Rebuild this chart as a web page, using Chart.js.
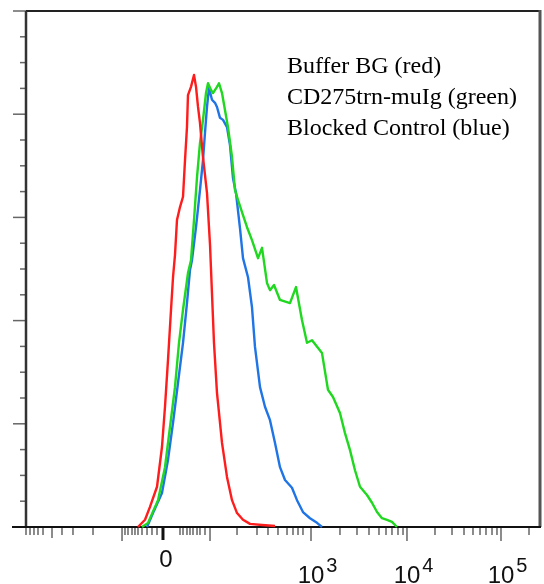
<!DOCTYPE html>
<html lang="en">
<head>
<meta charset="UTF-8" />
<title>histograma</title>
<script src="https://cdn.jsdelivr.net/npm/chart.js"></script>
<style>
  html, body { margin: 0; padding: 0; background: #fff; }
  #box { width: 544px; height: 584px; }
</style>
</head>
<body>
<div id="box"><canvas id="grafico"></canvas></div>
<script>
// display channels (0-1024) and counts (0-100)
const redX = [223.1, 237.1, 247.0, 261.0, 270.9, 276.9, 282.9, 288.9, 292.9, 296.8, 300.8, 306.8, 312.8, 316.8, 320.7, 322.7, 328.7, 334.7, 338.7, 342.7, 346.6, 352.6, 360.6, 366.6, 370.5, 374.5, 380.5, 390.5, 400.4, 410.4, 420.4, 432.3, 446.3, 470.2, 496.1]
const redY = [0, 1.4, 3.9, 7.8, 15.5, 23.3, 32.4, 42.1, 48.4, 52.7, 59.5, 62.0, 64.0, 71.1, 77.5, 83.7, 85.3, 87.6, 85.3, 81.4, 78.3, 71.7, 64.7, 54.7, 45.3, 35.7, 26.0, 16.3, 9.7, 5.2, 2.7, 1.4, 0.6, 0.4, 0.2]

const greenX = [231.1, 243.0, 263.0, 276.9, 286.9, 296.8, 304.8, 312.8, 322.7, 328.7, 334.7, 340.7, 346.6, 352.6, 358.6, 362.6, 368.6, 372.5, 380.5, 384.5, 390.5, 396.4, 402.4, 410.4, 416.4, 422.3, 430.3, 440.3, 450.2, 462.2, 470.2, 480.1, 486.1, 494.1, 506.0, 525.9, 537.9, 549.8, 559.8, 569.8, 589.7, 601.6, 611.6, 625.5, 635.5, 645.5, 655.4, 665.4, 679.3, 689.3, 699.3, 709.2, 719.2, 729.1, 739.1]
const greenY = [0, 0.8, 5.2, 11.6, 19.4, 27.1, 35.7, 42.1, 49.2, 51.7, 59.5, 67.8, 74.4, 78.9, 84.1, 86.0, 84.7, 84.1, 85.3, 86.0, 84.1, 80.8, 77.5, 71.7, 65.3, 63.4, 61.0, 58.1, 55.6, 52.1, 54.1, 47.3, 45.9, 46.9, 44.0, 43.4, 46.5, 40.1, 35.7, 36.2, 33.7, 26.6, 25.2, 22.1, 18.2, 14.9, 11.0, 7.8, 6.2, 4.7, 2.9, 1.7, 1.4, 1.0, 0]

const blueX = [241.1, 253.0, 270.9, 282.9, 292.9, 302.8, 312.8, 320.7, 326.7, 330.7, 338.7, 346.6, 352.6, 356.6, 360.6, 364.6, 370.5, 376.5, 380.5, 386.5, 392.5, 400.4, 406.4, 412.4, 418.4, 426.3, 432.3, 442.3, 450.2, 456.2, 466.2, 476.1, 486.1, 496.1, 506.0, 516.0, 529.9, 539.9, 551.8, 565.8, 579.7, 589.7]
const blueY = [0, 2.7, 6.6, 13.0, 20.2, 27.9, 35.7, 43.4, 49.8, 51.7, 58.1, 65.3, 71.1, 76.4, 81.4, 85.1, 82.8, 82.2, 81.4, 79.3, 78.9, 77.5, 74.0, 67.6, 64.7, 57.9, 52.1, 48.4, 42.6, 34.9, 27.1, 23.3, 20.7, 16.3, 11.6, 9.1, 7.6, 5.2, 2.9, 1.7, 0.8, 0]

const legendTexts = ['Buffer BG (red)', 'CD275trn-muIg (green)', 'Blocked Control (blue)']

// x axis (biexponential display), positions in channels
const xMajorTicks = [191.3, 366.6, 567.8, 759.0, 946.3]
const xZeroTick = 272.9
const xMidTicks = [51.8]
const xMinorTicks = [0, 8, 15.9, 23.9, 33.9, 71.7, 93.6, 133.5, 197.2, 203.2, 211.2, 217.1, 223.1, 231.1, 241.1, 251.0, 261.0,
  306.8, 312.8, 320.7, 326.7, 332.7, 340.7, 346.6, 356.6, 420.4, 460.2, 482.1, 502.0, 520.0, 531.9, 541.9, 551.8,
  625.5, 659.4, 683.3, 703.2, 717.2, 729.1, 741.1, 751.1, 814.8, 848.7, 872.6, 890.5, 904.5, 916.4, 928.4, 938.3, 1002.1]
const xLabelPos = [272.9, 567.8, 759.0, 946.3]
const xLabelBase = ['0', '10', '10', '10']
const xLabelExp = ['', '3', '4', '5']

// y axis counts
const yMajorTicks = [0, 20, 40, 60, 80, 100]
const yMinorTicks = [5, 10, 15, 25, 30, 35, 45, 50, 55, 65, 70, 75, 85, 90, 95]

function pontos(xs, ys) {
  return xs.map(function (x, i) { return { x: x, y: ys[i] } })
}

const moldura = {
  id: 'moldura',
  beforeDatasetsDraw(chart) {
    const ctx = chart.ctx
    const a = chart.chartArea
    const sx = chart.scales.x
    const sy = chart.scales.y
    ctx.save()
    // y ticks
    ctx.strokeStyle = '#666'
    ctx.lineWidth = 1.5
    yMajorTicks.forEach(function (v) {
      const y = sy.getPixelForValue(v)
      ctx.beginPath(); ctx.moveTo(a.left - 13, y); ctx.lineTo(a.left, y); ctx.stroke()
    })
    yMinorTicks.forEach(function (v) {
      const y = sy.getPixelForValue(v)
      ctx.beginPath(); ctx.moveTo(a.left - 6, y); ctx.lineTo(a.left, y); ctx.stroke()
    })
    // x ticks
    xMinorTicks.forEach(function (v) {
      const x = sx.getPixelForValue(v)
      ctx.beginPath(); ctx.moveTo(x, a.bottom); ctx.lineTo(x, a.bottom + 8); ctx.stroke()
    })
    xMidTicks.forEach(function (v) {
      const x = sx.getPixelForValue(v)
      ctx.beginPath(); ctx.moveTo(x, a.bottom); ctx.lineTo(x, a.bottom + 11); ctx.stroke()
    })
    xMajorTicks.forEach(function (v) {
      const x = sx.getPixelForValue(v)
      ctx.beginPath(); ctx.moveTo(x, a.bottom); ctx.lineTo(x, a.bottom + 14); ctx.stroke()
    })
    ctx.strokeStyle = '#111'
    ctx.lineWidth = 3
    const x0 = sx.getPixelForValue(xZeroTick)
    ctx.beginPath(); ctx.moveTo(x0, a.bottom); ctx.lineTo(x0, a.bottom + 13); ctx.stroke()

    // frame
    ctx.strokeStyle = '#222'
    ctx.lineWidth = 2
    ctx.beginPath()
    ctx.moveTo(a.left, a.top); ctx.lineTo(a.right, a.top)
    ctx.stroke()
    ctx.strokeStyle = '#555'
    ctx.lineWidth = 3
    ctx.beginPath()
    ctx.moveTo(a.right, a.top - 1); ctx.lineTo(a.right, a.bottom)
    ctx.stroke()
    ctx.strokeStyle = '#333'
    ctx.lineWidth = 2.5
    ctx.beginPath()
    ctx.moveTo(a.left, a.top); ctx.lineTo(a.left, a.bottom)
    ctx.stroke()
    ctx.strokeStyle = '#111'
    ctx.lineWidth = 2
    ctx.beginPath()
    ctx.moveTo(a.left - 14, a.bottom); ctx.lineTo(a.right + 1, a.bottom)
    ctx.stroke()
    ctx.restore()
  },
  afterDraw(chart) {
    const ctx = chart.ctx
    const a = chart.chartArea
    const sx = chart.scales.x
    ctx.save()
    ctx.fillStyle = '#111'
    // x labels
    for (let i = 0; i < xLabelPos.length; i++) {
      const x = sx.getPixelForValue(xLabelPos[i])
      ctx.font = '24px "Liberation Sans", Arial, sans-serif'
      ctx.textAlign = 'center'
      ctx.textBaseline = 'alphabetic'
      if (xLabelExp[i] === '') {
        ctx.fillText(xLabelBase[i], x + 3, a.bottom + 40)
      } else {
        ctx.fillText(xLabelBase[i], x, a.bottom + 56)
        const w = ctx.measureText(xLabelBase[i]).width
        ctx.font = '20px "Liberation Sans", Arial, sans-serif'
        ctx.textAlign = 'left'
        ctx.fillText(xLabelExp[i], x + w / 2 + 2, a.bottom + 45)
      }
    }
    // legend text
    ctx.font = '24px "Liberation Serif", "Times New Roman", serif'
    ctx.textAlign = 'left'
    ctx.fillStyle = '#000'
    legendTexts.forEach(function (t, i) {
      ctx.fillText(t, 287, 73 + i * 31)
    })
    ctx.restore()
  }
}

const config = {
  type: 'line',
  data: {
    datasets: [
      { label: legendTexts[0], data: pontos(redX, redY), borderColor: '#ff1c1c' },
      { label: legendTexts[1], data: pontos(greenX, greenY), borderColor: '#1fd81f' },
      { label: legendTexts[2], data: pontos(blueX, blueY), borderColor: '#1f74e6' }
    ]
  },
  options: {
    responsive: true,
    maintainAspectRatio: false,
    animation: false,
    layout: { padding: { left: 26, right: 4, top: 11, bottom: 57 } },
    datasets: {
      line: { borderWidth: 2.4, pointRadius: 0, tension: 0, fill: false, clip: 4, borderJoinStyle: 'round' }
    },
    plugins: { legend: { display: false }, tooltip: { enabled: false } },
    scales: {
      x: { type: 'linear', min: 0, max: 1024, display: false },
      y: { type: 'linear', min: 0, max: 100, display: false }
    }
  },
  plugins: [moldura]
}

new Chart(document.getElementById('grafico'), config)
</script>
</body>
</html>
